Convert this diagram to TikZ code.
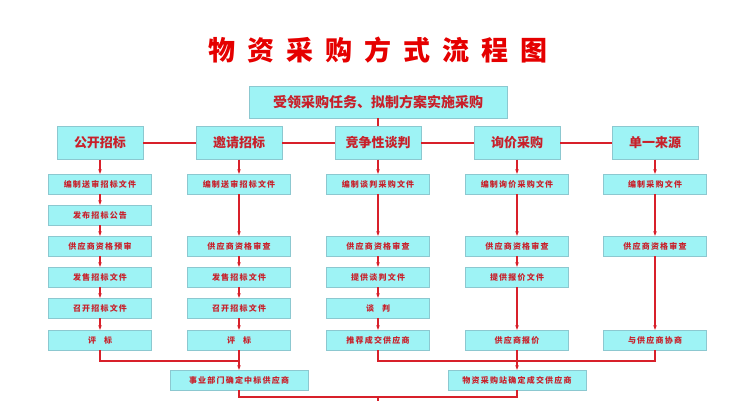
\documentclass[tikz,border=0pt]{standalone}
\usepackage{fontspec}
\newfontfamily\cjk{Noto Sans CJK SC}
\newfontfamily\cjkwide[LetterSpace=15]{Noto Sans CJK SC}
\usetikzlibrary{positioning,arrows.meta}
\definecolor{boxfill}{HTML}{9EF3F5}
\definecolor{boxline}{HTML}{8CC8D0}
\definecolor{txtred}{HTML}{C8202A}
\definecolor{linered}{HTML}{D8202A}
\begin{document}
\begin{tikzpicture}[x=1pt,y=-1pt,font=\cjk\bfseries,
  head/.style={draw=boxline,fill=boxfill,text=txtred,minimum width=86pt,minimum height=33pt,font=\cjk\bfseries\fontsize{13}{15}\selectfont},
  stepbox/.style={draw=boxline,fill=boxfill,text=txtred,minimum width=103pt,minimum height=20pt,font=\cjkwide\bfseries\fontsize{8}{10}\selectfont},
  E/.style={draw=linered,line width=1.5pt,-{Stealth[length=4.5pt,width=3.5pt]}},
  L/.style={draw=linered,line width=1.5pt}]
  \useasboundingbox (0,0) rectangle (756,400);
  \node[text=red!90!black,font=\cjk\bfseries\fontsize{27}{30}\selectfont] (title) at (378,50) {物\hspace{12pt}资\hspace{12pt}采\hspace{12pt}购\hspace{12pt}方\hspace{12pt}式\hspace{12pt}流\hspace{12pt}程\hspace{12pt}图};
  \node[draw=boxline,fill=boxfill,text=txtred,minimum width=258pt,minimum height=32pt,font=\cjk\bfseries\fontsize{14}{16}\selectfont] (top) at (378,102) {受领采购任务、拟制方案实施采购};
  % headers
  \node[head] (h1) at (100,143) {公开招标};
  \node[head] (h2) at (239,143) {邀请招标};
  \node[head] (h3) at (378,143) {竞争性谈判};
  \node[head] (h4) at (517,143) {询价采购};
  \node[head] (h5) at (655,143) {单一来源};
  \draw[L] (top) -- (h3);
  \draw[L] (h1) -- (h2);
  \draw[L] (h2) -- (h3);
  \draw[L] (h3) -- (h4);
  \draw[L] (h4) -- (h5);
  % column 1
  \node[stepbox] (a1) at (100,184) {编制送审招标文件};
  \node[stepbox] (a2) at (100,215) {发布招标公告};
  \node[stepbox] (a3) at (100,246) {供应商资格预审};
  \node[stepbox] (a4) at (100,277) {发售招标文件};
  \node[stepbox] (a5) at (100,308) {召开招标文件};
  \node[stepbox] (a6) at (100,340) {评\quad 标};
  % column 2
  \node[stepbox] (b1) at (239,184) {编制送审招标文件};
  \node[stepbox] (b3) at (239,246) {供应商资格审查};
  \node[stepbox] (b4) at (239,277) {发售招标文件};
  \node[stepbox] (b5) at (239,308) {召开招标文件};
  \node[stepbox] (b6) at (239,340) {评\quad 标};
  % column 3
  \node[stepbox] (c1) at (378,184) {编制谈判采购文件};
  \node[stepbox] (c3) at (378,246) {供应商资格审查};
  \node[stepbox] (c4) at (378,277) {提供谈判文件};
  \node[stepbox] (c5) at (378,308) {谈\quad 判};
  \node[stepbox] (c6) at (378,340) {推荐成交供应商};
  % column 4
  \node[stepbox] (d1) at (517,184) {编制询价采购文件};
  \node[stepbox] (d3) at (517,246) {供应商资格审查};
  \node[stepbox] (d4) at (517,277) {提供报价文件};
  \node[stepbox] (d6) at (517,340) {供应商报价};
  % column 5
  \node[stepbox] (e1) at (655,184) {编制采购文件};
  \node[stepbox] (e3) at (655,246) {供应商资格审查};
  \node[stepbox] (e6) at (655,340) {与供应商协商};
  % bottom
  \node[stepbox,minimum width=138pt] (f1) at (239,380) {事业部门确定中标供应商};
  \node[stepbox,minimum width=138pt] (f2) at (517,380) {物资采购站确定成交供应商};
  \coordinate (jl) at (100,361);
  \coordinate (jm) at (239,361);
  \coordinate (jr) at (378,361);
  \coordinate (jr2) at (655,361);
  \coordinate (jk) at (517,361);
  \coordinate (br) at (517,397);
  \coordinate (bm) at (378,397);
  \coordinate (out) at (378,402);
  \draw[E] (h1) -- (a1);
  \draw[E] (a1) -- (a2);
  \draw[E] (a2) -- (a3);
  \draw[E] (a3) -- (a4);
  \draw[E] (a4) -- (a5);
  \draw[E] (a5) -- (a6);
  \draw[E] (h2) -- (b1);
  \draw[E] (b1) -- (b3);
  \draw[E] (b3) -- (b4);
  \draw[E] (b4) -- (b5);
  \draw[E] (b5) -- (b6);
  \draw[E] (h3) -- (c1);
  \draw[E] (c1) -- (c3);
  \draw[E] (c3) -- (c4);
  \draw[E] (c4) -- (c5);
  \draw[E] (c5) -- (c6);
  \draw[E] (h4) -- (d1);
  \draw[E] (d1) -- (d3);
  \draw[E] (d3) -- (d4);
  \draw[E] (d4) -- (d6);
  \draw[E] (h5) -- (e1);
  \draw[E] (e1) -- (e3);
  \draw[E] (e3) -- (e6);
  \draw[L] (a6) -- (jl) -- (jm);
  \draw[E] (b6) -- (f1);
  \draw[L] (c6) -- (jr) -- (jr2) -- (e6);
  \draw[L] (d6) -- (jk);
  \draw[E] (jk) -- (f2);
  \draw[L] (f1) |- (br) -- (f2);
  \draw[L] (bm) -- (out);
\end{tikzpicture}
\end{document}
